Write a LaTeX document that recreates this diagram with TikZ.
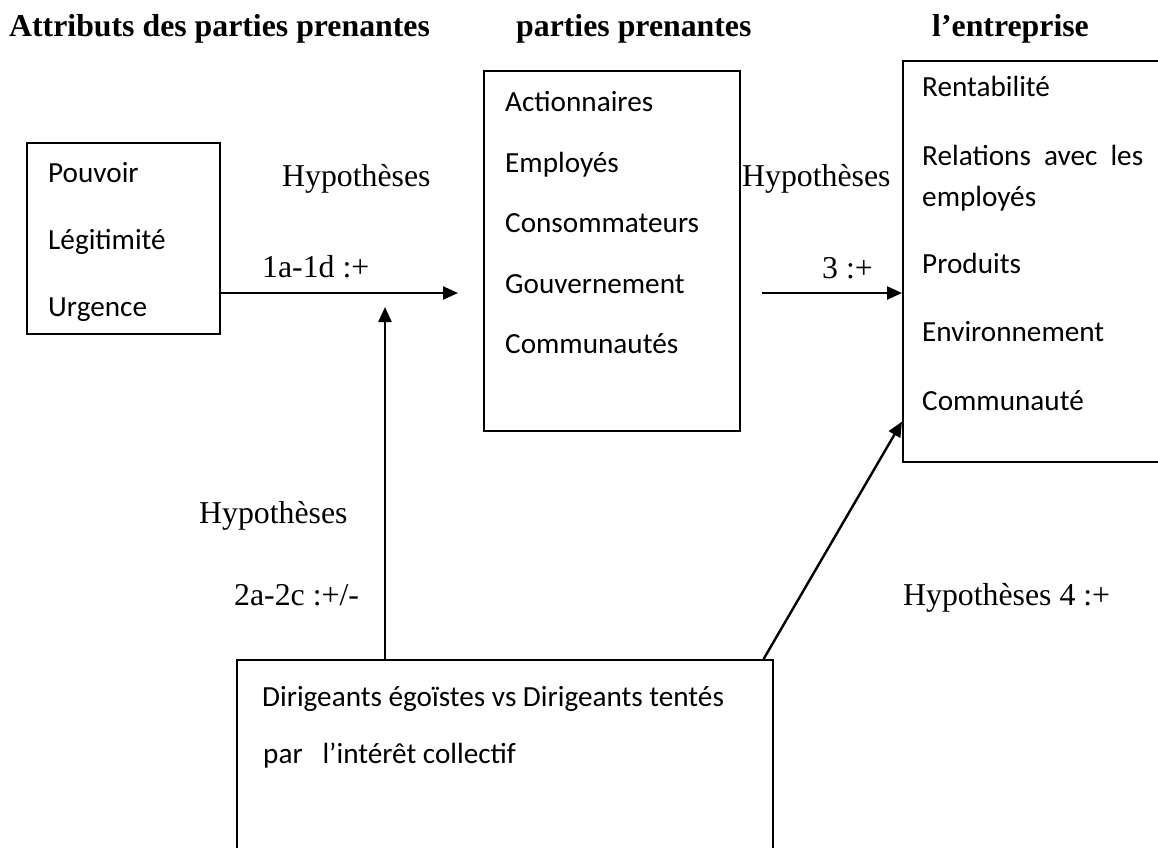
\documentclass[tikz,border=0pt]{standalone}
\usepackage{fontspec}
\setmainfont{Liberation Serif}
\newfontfamily\calibfont{Carlito}
\usetikzlibrary{arrows.meta}
\tikzstyle{cadre} = [rectangle,
anchor=north west,
inner sep=0pt,
draw=black,
line width=1.6pt]
\tikzstyle{titre} = [anchor=base west, inner sep=0pt,
font=\fontsize{31.8}{38}\selectfont\bfseries]
\tikzstyle{hypo} = [anchor=base west, inner sep=0pt,
font=\fontsize{31.8}{38}\selectfont]
\tikzstyle{item} = [anchor=base west, inner sep=0pt,
font=\calibfont\fontsize{29.2}{35}\selectfont]
\tikzstyle{arrow} = [line width=2.4pt,-{Triangle[length=15pt,width=13pt]}]

\begin{document}
\begin{tikzpicture}[x=1pt, y=-1pt]

    \useasboundingbox (0,0) rectangle (1158,847);

    % titres
    \node (t1) [titre] at (9,36) {Attributs des parties prenantes};
    \node (t2) [titre] at (516,36) {parties prenantes};
    \node (t3) [titre] at (932,36) {l’entreprise};

    % cadres
    \node (attr) [cadre, minimum width=193pt, minimum height=191pt] at (26,142) {};
    \node (pp) [cadre, minimum width=256pt, minimum height=360pt] at (483,70) {};
    \node (ent) [cadre, minimum width=273pt, minimum height=401pt] at (902,60) {};
    \node (dir) [cadre, minimum width=536pt, minimum height=211pt] at (236,659) {};

    \node (pouv) [item] at (48,182) {Pouvoir};
    \node (legi) [item] at (48,249) {Légitimité};
    \node (urge) [item] at (48,316) {Urgence};

    \node (act) [item] at (505,111) {Actionnaires};
    \node (emp) [item] at (505,172) {Employés};
    \node (cons) [item] at (505,232) {Consommateurs};
    \node (gouv) [item] at (505,293) {Gouvernement};
    \node (comm) [item] at (505,353) {Communautés};

    \node (rent) [item] at (922,96) {Rentabilité};
    \node (rel) [item] at (922,165) {\makebox[221pt][s]{Relations avec les}};
    \node (empl) [item] at (922,206) {employés};
    \node (prod) [item] at (922,273) {Produits};
    \node (env) [item] at (922,341) {Environnement};
    \node (comu) [item] at (922,410) {Communauté};

    \node (dir1) [item] at (262,706) {Dirigeants égoïstes vs Dirigeants tentés};
    \node (dir2) [item] at (263,763) {par\ \ \ l’intérêt collectif};

    % hypotheses
    \node (h1) [hypo] at (282,186) {Hypothèses};
    \node (h1b) [hypo] at (262,277) {1a-1d :+};
    \node (h3) [hypo] at (742,186) {Hypothèses};
    \node (h3b) [hypo] at (822,278) {3 :+};
    \node (h2) [hypo] at (199,523) {Hypothèses};
    \node (h2b) [hypo] at (234,605) {2a-2c :+/-};
    \node (h4) [hypo] at (903,605) {Hypothèses 4 :+};

    % fleches
    \coordinate (f1) at (458,293);
    \coordinate (f2) at (762,293);
    \coordinate (f3) at (385,307);
    \draw [arrow] (attr.east |- f1) -- (f1);
    \draw [arrow] (f2) -- (f2 -| ent.west);
    \draw [arrow] (dir.north -| f3) -- (f3);
    \draw [arrow] ([xshift=-10pt]dir.north east) -- ([yshift=41pt]ent.south west);

\end{tikzpicture}
\end{document}
